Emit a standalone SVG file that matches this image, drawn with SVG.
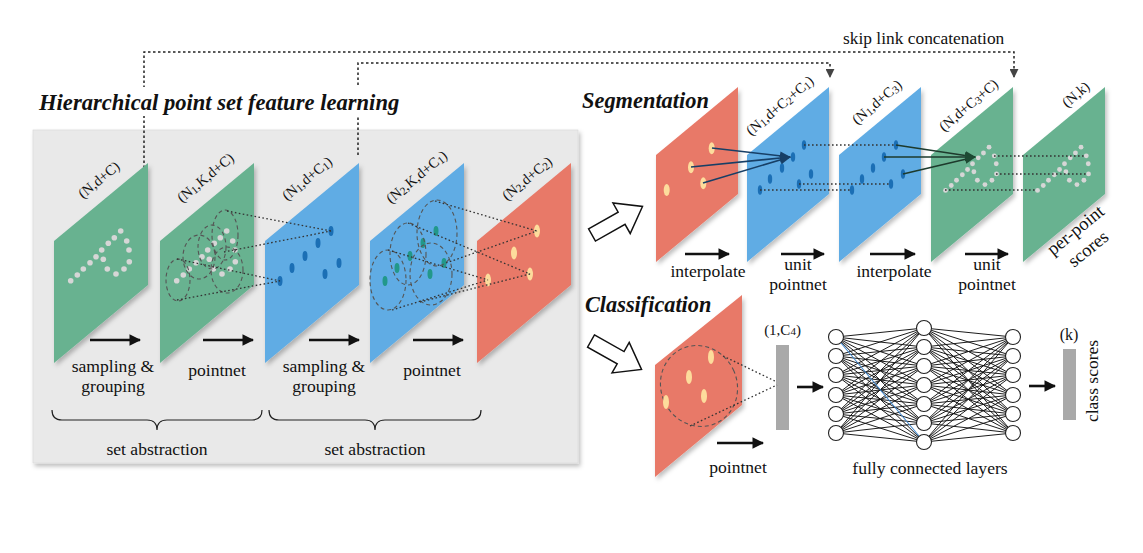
<svg xmlns="http://www.w3.org/2000/svg" xmlns:xlink="http://www.w3.org/1999/xlink" width="1143" height="553" viewBox="0 0 1143 553">
<defs>
<style>
.t{font-family:"Liberation Serif","Times New Roman",serif;fill:#111}
.lbl{font-family:"Liberation Serif","Times New Roman",serif;font-size:14.5px;fill:#111}
.sub{font-size:11px}
.cap{font-family:"Liberation Serif","Times New Roman",serif;font-size:17.6px;fill:#111;text-anchor:middle}
.ttl{font-family:"Liberation Serif","Times New Roman",serif;font-weight:bold;font-style:italic;fill:#111}
.green{fill:#68b290}
.blue{fill:#60ace4}
.red{fill:#e87968}
.dot{fill:#d6d6d6}
.bd{fill:#1b6fb5}
.td{fill:#22988a}
.yd{fill:#fddc9c}
.dash{fill:none;stroke:#555;stroke-width:1.1;stroke-dasharray:4 3}
.dotl{fill:none;stroke:#333;stroke-width:1.3;stroke-dasharray:1.6 2.4}
.skip{fill:none;stroke:#222;stroke-width:1.5;stroke-dasharray:2.5 2.5}
.arr{stroke:#111;stroke-width:2.6;marker-end:url(#ah)}
.hol{fill:#fff;stroke:#111;stroke-width:1.5;stroke-linejoin:miter}
.nn{fill:#fff;stroke:#222;stroke-width:1.1}
</style>
<filter id="sh" x="-20%" y="-20%" width="150%" height="150%"><feDropShadow dx="2" dy="3" stdDeviation="2" flood-color="#000" flood-opacity="0.25"/></filter>
<marker id="ah" viewBox="0 0 10 10" refX="9" refY="5" markerWidth="4.5" markerHeight="4.5" orient="auto" markerUnits="strokeWidth"><path d="M0,0 L10,5 L0,10 z" fill="#111"/></marker>
<marker id="sk" viewBox="0 0 10 10" refX="9" refY="5" markerWidth="6" markerHeight="6" orient="auto" markerUnits="strokeWidth"><path d="M0,0 L10,5 L0,10 z" fill="#444"/></marker>
<marker id="nav" viewBox="0 0 10 10" refX="9" refY="5" markerWidth="7" markerHeight="7" orient="auto" markerUnits="strokeWidth"><path d="M0,1 L10,5 L0,9 z" fill="#173f66"/></marker>
<marker id="dg" viewBox="0 0 10 10" refX="9" refY="5" markerWidth="7" markerHeight="7" orient="auto" markerUnits="strokeWidth"><path d="M0,1 L10,5 L0,9 z" fill="#1d4a33"/></marker>
<g id="pts">
<circle cx="16.7" cy="40.7" r="2.8"/><circle cx="23.3" cy="35" r="2.8"/><circle cx="29.3" cy="29" r="2.8"/><circle cx="36" cy="22.7" r="2.8"/><circle cx="42" cy="16.7" r="2.8"/><circle cx="47.7" cy="10" r="2.8"/><circle cx="54.3" cy="3.3" r="2.8"/><circle cx="60.3" cy="-2.3" r="2.8"/><circle cx="66.7" cy="-9" r="2.8"/><circle cx="72.7" cy="1" r="2.8"/><circle cx="75" cy="10" r="2.8"/><circle cx="75.3" cy="21.7" r="2.8"/><circle cx="70" cy="29" r="2.8"/><circle cx="62" cy="34" r="2.8"/><circle cx="53.3" cy="29" r="2.8"/><circle cx="49.3" cy="19.3" r="2.8"/>
</g>
<g id="bpts">
<ellipse cx="66" cy="-10" rx="2.5" ry="5"/><ellipse cx="53" cy="2" rx="2.5" ry="5"/><ellipse cx="40" cy="15" rx="2.5" ry="5"/><ellipse cx="27" cy="27" rx="2.5" ry="5"/><ellipse cx="15" cy="40" rx="2.5" ry="5"/><ellipse cx="74" cy="22" rx="2.5" ry="5"/><ellipse cx="60" cy="33" rx="2.5" ry="5"/>
</g>
<path id="hollow" d="M0,-7 L34,-7 L34,-17.5 L58,0 L34,17.5 L34,7 L0,7 Z"/>
</defs>

<rect width="1143" height="553" fill="#fff"/>

<g id="panel">
<rect x="33" y="130" width="545" height="333" fill="#e9e9e9" stroke="#dcdcdc" stroke-width="0.8" filter="url(#sh)"/>
</g>

<g id="skiplinks">
<path class="skip" d="M144,168 V52 H1014 V77" marker-end="url(#sk)"/>
<path class="skip" d="M358,155 V63 H830 V77" marker-end="url(#sk)"/>
<text class="t" x="843" y="44" font-size="17.4">skip link concatenation</text>
</g>

<g id="title">
<rect x="37" y="87" width="366" height="29" fill="#fff"/>
<text class="ttl" x="39" y="110" font-size="22.6">Hierarchical point set feature learning</text>
</g>

<g id="p1">
<polygon class="green" points="54,241 148,163 148,285 54,363" filter="url(#sh)"/>
<use xlink:href="#pts" class="dot" x="54" y="240"/>
<text class="lbl" transform="translate(83,199) rotate(-39.3)">(N,d+C)</text>
</g>
<g id="p2">
<polygon class="green" points="160,241 254,163 254,285 160,363" filter="url(#sh)"/>
<use xlink:href="#pts" class="dot" x="160" y="240"/>
<ellipse class="dash" cx="178" cy="280" rx="12" ry="21"/>
<ellipse class="dash" cx="199" cy="257" rx="16" ry="22"/>
<ellipse class="dash" cx="212" cy="247" rx="14" ry="22"/>
<ellipse class="dash" cx="225" cy="235" rx="13" ry="25"/>
<ellipse class="dash" cx="227" cy="270" rx="16" ry="23"/>
<text class="lbl" transform="translate(182,203) rotate(-39.3)">(N<tspan class="sub" dy="1.5">1</tspan><tspan dy="-1.5">,K,d+C)</tspan></text>
</g>
<g id="p3">
<polygon class="blue" points="265,241 359,163 359,285 265,363" filter="url(#sh)"/>
<use xlink:href="#bpts" class="bd" x="265" y="241"/>
<text class="lbl" transform="translate(287,201) rotate(-39.3)">(N<tspan class="sub" dy="1.5">1</tspan><tspan dy="-1.5">,d+C</tspan><tspan class="sub" dy="1.5">1</tspan><tspan dy="-1.5">)</tspan></text>
</g>
<g id="p4">
<polygon class="blue" points="370,241 464,163 464,285 370,363" filter="url(#sh)"/>
<use xlink:href="#bpts" class="td" x="370" y="241"/>
<ellipse class="dash" cx="388" cy="280" rx="18" ry="30"/>
<ellipse class="dash" cx="408" cy="254" rx="18" ry="31"/>
<ellipse class="dash" cx="437" cy="233" rx="20" ry="33"/>
<ellipse class="dash" cx="431" cy="274" rx="21" ry="31"/>
<text class="lbl" transform="translate(391,204) rotate(-39.3)">(N<tspan class="sub" dy="1.5">2</tspan><tspan dy="-1.5">,K,d+C</tspan><tspan class="sub" dy="1.5">1</tspan><tspan dy="-1.5">)</tspan></text>
</g>
<g id="p5">
<polygon class="red" points="477,241 571,163 571,285 477,363" filter="url(#sh)"/>
<ellipse class="yd" cx="537" cy="231" rx="3" ry="6.5"/>
<ellipse class="yd" cx="514" cy="253" rx="3" ry="6.5"/>
<ellipse class="yd" cx="530" cy="274" rx="3" ry="6.5"/>
<ellipse class="yd" cx="488" cy="280" rx="3" ry="6.5"/>
<text class="lbl" transform="translate(507,201) rotate(-39.3)">(N<tspan class="sub" dy="1.5">2</tspan><tspan dy="-1.5">,d+C</tspan><tspan class="sub" dy="1.5">2</tspan><tspan dy="-1.5">)</tspan></text>
</g>

<g id="leftlabels">
<text class="cap" x="113" y="372">sampling &amp;</text>
<text class="cap" x="113" y="392">grouping</text>
<text class="cap" x="217" y="376">pointnet</text>
<text class="cap" x="324" y="372">sampling &amp;</text>
<text class="cap" x="324" y="392">grouping</text>
<text class="cap" x="432" y="376">pointnet</text>
<path d="M52,410 Q52,420 62,420 H147 Q157,420 157,430 Q157,420 167,420 H252 Q262,420 262,410" fill="none" stroke="#222" stroke-width="1.2"/>
<path d="M269,410 Q269,420 279,420 H365 Q375,420 375,430 Q375,420 385,420 H471 Q481,420 481,410" fill="none" stroke="#222" stroke-width="1.2"/>
<text class="cap" x="157" y="455" font-size="20">set abstraction</text>
<text class="cap" x="375" y="455" font-size="20">set abstraction</text>
</g>

<g id="seg-title">
<text class="ttl" x="582" y="108" font-size="22.4">Segmentation</text>
<use xlink:href="#hollow" class="hol" transform="translate(592,235) rotate(-29.5)"/>
</g>
<g id="s1">
<polygon class="red" points="656,155 738,87 738,194 656,262" filter="url(#sh)"/>
<ellipse class="yd" cx="711.7" cy="148.3" rx="3" ry="6"/>
<ellipse class="yd" cx="691" cy="167.3" rx="3" ry="6"/>
<ellipse class="yd" cx="703.3" cy="183.3" rx="3" ry="6"/>
<ellipse class="yd" cx="666.7" cy="190" rx="3" ry="6"/>
</g>
<g id="s2">
<polygon class="blue" points="747,155 829,87 829,194 747,262" filter="url(#sh)"/>
<ellipse class="bd" cx="804" cy="145" rx="2.2" ry="4.8"/><ellipse class="bd" cx="793" cy="157" rx="2.2" ry="4.8"/><ellipse class="bd" cx="782" cy="168" rx="2.2" ry="4.8"/><ellipse class="bd" cx="770" cy="179" rx="2.2" ry="4.8"/><ellipse class="bd" cx="760" cy="190" rx="2.2" ry="4.8"/><ellipse class="bd" cx="811" cy="174" rx="2.2" ry="4.8"/><ellipse class="bd" cx="799" cy="184" rx="2.2" ry="4.8"/>
<text class="lbl" font-size="16" transform="translate(751,136) rotate(-40)">(N<tspan class="sub" dy="1.5">1</tspan><tspan dy="-1.5">,d+C</tspan><tspan class="sub" dy="1.5">2</tspan><tspan dy="-1.5">+C</tspan><tspan class="sub" dy="1.5">1</tspan><tspan dy="-1.5">)</tspan></text>
</g>
<g id="s3">
<polygon class="blue" points="839,155 921,87 921,194 839,262" filter="url(#sh)"/>
<ellipse class="bd" cx="896" cy="145" rx="2.2" ry="4.8"/><ellipse class="bd" cx="884" cy="157" rx="2.2" ry="4.8"/><ellipse class="bd" cx="873" cy="168" rx="2.2" ry="4.8"/><ellipse class="bd" cx="862" cy="179" rx="2.2" ry="4.8"/><ellipse class="bd" cx="852" cy="190" rx="2.2" ry="4.8"/><ellipse class="bd" cx="903" cy="174" rx="2.2" ry="4.8"/><ellipse class="bd" cx="891" cy="184" rx="2.2" ry="4.8"/>
<text class="lbl" font-size="16" transform="translate(857,125) rotate(-40)">(N<tspan class="sub" dy="1.5">1</tspan><tspan dy="-1.5">,d+C</tspan><tspan class="sub" dy="1.5">3</tspan><tspan dy="-1.5">)</tspan></text>
</g>
<g id="s4">
<polygon class="green" points="931,155 1013,87 1013,194 931,262" filter="url(#sh)"/>
<use xlink:href="#pts" class="dot" transform="translate(931,155) scale(0.87)"/>
<text class="lbl" font-size="16" transform="translate(944,132) rotate(-40)">(N,d+C<tspan class="sub" dy="1.5">3</tspan><tspan dy="-1.5">+C)</tspan></text>
</g>
<g id="s5">
<polygon class="green" points="1023,155 1105,87 1105,194 1023,262" filter="url(#sh)"/>
<use xlink:href="#pts" class="dot" transform="translate(1023,155) scale(0.87)"/>
<text class="lbl" font-size="16" transform="translate(1067,108) rotate(-40)">(N,k)</text>
<text class="t" font-size="18.5" transform="translate(1053,256) rotate(-39)">per-point</text>
<text class="t" font-size="18.5" transform="translate(1074,268) rotate(-39)">scores</text>
</g>
<g id="seglabels">
<text class="cap" x="708" y="277">interpolate</text>
<text class="cap" x="798" y="270">unit</text>
<text class="cap" x="798" y="290">pointnet</text>
<text class="cap" x="894" y="277">interpolate</text>
<text class="cap" x="987" y="270">unit</text>
<text class="cap" x="987" y="290">pointnet</text>
</g>

<g id="cls-title">
<text class="ttl" x="585" y="312" font-size="22.3">Classification</text>
<use xlink:href="#hollow" class="hol" transform="translate(591,341) rotate(29.4)"/>
</g>
<g id="c1">
<polygon class="red" points="655,365 742,295 742,405 655,477" filter="url(#sh)"/>
<ellipse class="dash" cx="699" cy="386" rx="38" ry="41" transform="rotate(-25 699 386)"/>
<ellipse class="yd" cx="711" cy="357" rx="3" ry="7"/>
<ellipse class="yd" cx="689" cy="377" rx="3" ry="7"/>
<ellipse class="yd" cx="704" cy="396" rx="3" ry="7"/>
<ellipse class="yd" cx="666" cy="402" rx="3" ry="7"/>
<text class="cap" x="738" y="473">pointnet</text>
</g>
<g id="c2">
<rect x="776" y="345" width="13" height="85" fill="#a9a9a9"/>
<text class="t" x="782.5" y="335" font-size="15" text-anchor="middle">(1,C<tspan font-size="11">4</tspan>)</text>
</g>
<g id="c3">
<rect x="1063" y="349" width="13" height="71" fill="#a9a9a9"/>
<text class="t" x="1069" y="340" font-size="16" text-anchor="middle">(k)</text>
<text class="t" font-size="17.5" text-anchor="middle" transform="translate(1098,381) rotate(-90)">class scores</text>
</g>

<g id="connectors">
<line class="arr" x1="90" y1="340" x2="140" y2="340"/>
<line class="arr" x1="203" y1="340" x2="253" y2="340"/>
<line class="arr" x1="309" y1="340" x2="359" y2="340"/>
<line class="arr" x1="413" y1="340" x2="463" y2="340"/>
<line class="arr" x1="685" y1="254" x2="729" y2="254"/>
<line class="arr" x1="781" y1="254" x2="824" y2="254"/>
<line class="arr" x1="870" y1="254" x2="915" y2="254"/>
<line class="arr" x1="965" y1="254" x2="1008" y2="254"/>
<line class="arr" x1="717" y1="443" x2="763" y2="443"/>
<line class="arr" x1="797" y1="387" x2="823" y2="387"/>
<line class="arr" x1="1029" y1="386" x2="1055" y2="386"/>
<path class="dotl" d="M227,211 L331,231 M224,252 L331,231 M177,259 L280,281 M177,300 L280,281"/>
<path class="dotl" d="M435,201 L537,231 M446,263 L537,231 M408,223 L530,274 M420,302 L530,274 M388,250 L488,280 M392,310 L488,280"/>
<path class="dotl" d="M723,356 L777,382 M690,426 L777,385"/>
<path class="dotl" d="M804,145 H896 M799,184 H891 M760,190 H852 M994,156 H1086 M996,174 H1088 M945,190 H1037"/>
<g stroke="#173f66" stroke-width="1.6" fill="none">
<line x1="712" y1="148" x2="790" y2="157" marker-end="url(#nav)"/>
<line x1="691" y1="167" x2="790" y2="157" marker-end="url(#nav)"/>
<line x1="703" y1="183" x2="790" y2="157" marker-end="url(#nav)"/>
</g>
<g stroke="#1d3a2c" stroke-width="1.6" fill="none">
<line x1="896" y1="145" x2="975" y2="157" marker-end="url(#dg)"/>
<line x1="884" y1="157" x2="975" y2="157" marker-end="url(#dg)"/>
<line x1="903" y1="174" x2="975" y2="157" marker-end="url(#dg)"/>
</g>
</g>

<g id="fc">
<path fill="none" stroke="#111" stroke-width="0.95" d="
M836 337L924 328M836 337L924 347M836 337L924 366M836 337L924 385M836 337L924 404M836 337L924 423
M836 356L924 328M836 356L924 347M836 356L924 366M836 356L924 385M836 356L924 404M836 356L924 423M836 356L924 442
M836 375L924 328M836 375L924 347M836 375L924 366M836 375L924 385M836 375L924 404M836 375L924 423M836 375L924 442
M836 395L924 328M836 395L924 347M836 395L924 366M836 395L924 385M836 395L924 404M836 395L924 423M836 395L924 442
M836 414L924 328M836 414L924 347M836 414L924 366M836 414L924 385M836 414L924 404M836 414L924 423M836 414L924 442
M836 433L924 328M836 433L924 347M836 433L924 366M836 433L924 385M836 433L924 404M836 433L924 423M836 433L924 442
M924 328L1013 337M924 328L1013 356M924 328L1013 375M924 328L1013 395M924 328L1013 414M924 328L1013 433
M924 347L1013 337M924 347L1013 356M924 347L1013 375M924 347L1013 395M924 347L1013 414M924 347L1013 433
M924 366L1013 337M924 366L1013 356M924 366L1013 375M924 366L1013 395M924 366L1013 414M924 366L1013 433
M924 385L1013 337M924 385L1013 356M924 385L1013 375M924 385L1013 395M924 385L1013 414M924 385L1013 433
M924 404L1013 337M924 404L1013 356M924 404L1013 375M924 404L1013 395M924 404L1013 414M924 404L1013 433
M924 423L1013 337M924 423L1013 356M924 423L1013 375M924 423L1013 395M924 423L1013 414M924 423L1013 433
M924 442L1013 337M924 442L1013 356M924 442L1013 375M924 442L1013 395M924 442L1013 414M924 442L1013 433"/>
<line x1="836" y1="337" x2="924" y2="442" stroke="#3f86cc" stroke-width="1.1"/>
<g class="nn">
<circle cx="836" cy="337" r="7.5"/><circle cx="836" cy="356" r="7.5"/><circle cx="836" cy="375" r="7.5"/><circle cx="836" cy="395" r="7.5"/><circle cx="836" cy="414" r="7.5"/><circle cx="836" cy="433" r="7.5"/>
<circle cx="924" cy="328" r="7.5"/><circle cx="924" cy="347" r="7.5"/><circle cx="924" cy="366" r="7.5"/><circle cx="924" cy="385" r="7.5"/><circle cx="924" cy="404" r="7.5"/><circle cx="924" cy="423" r="7.5"/><circle cx="924" cy="442" r="7.5"/>
<circle cx="1013" cy="337" r="7.5"/><circle cx="1013" cy="356" r="7.5"/><circle cx="1013" cy="375" r="7.5"/><circle cx="1013" cy="395" r="7.5"/><circle cx="1013" cy="414" r="7.5"/><circle cx="1013" cy="433" r="7.5"/>
</g>
<text class="cap" x="930" y="474">fully connected layers</text>
</g>
</svg>
